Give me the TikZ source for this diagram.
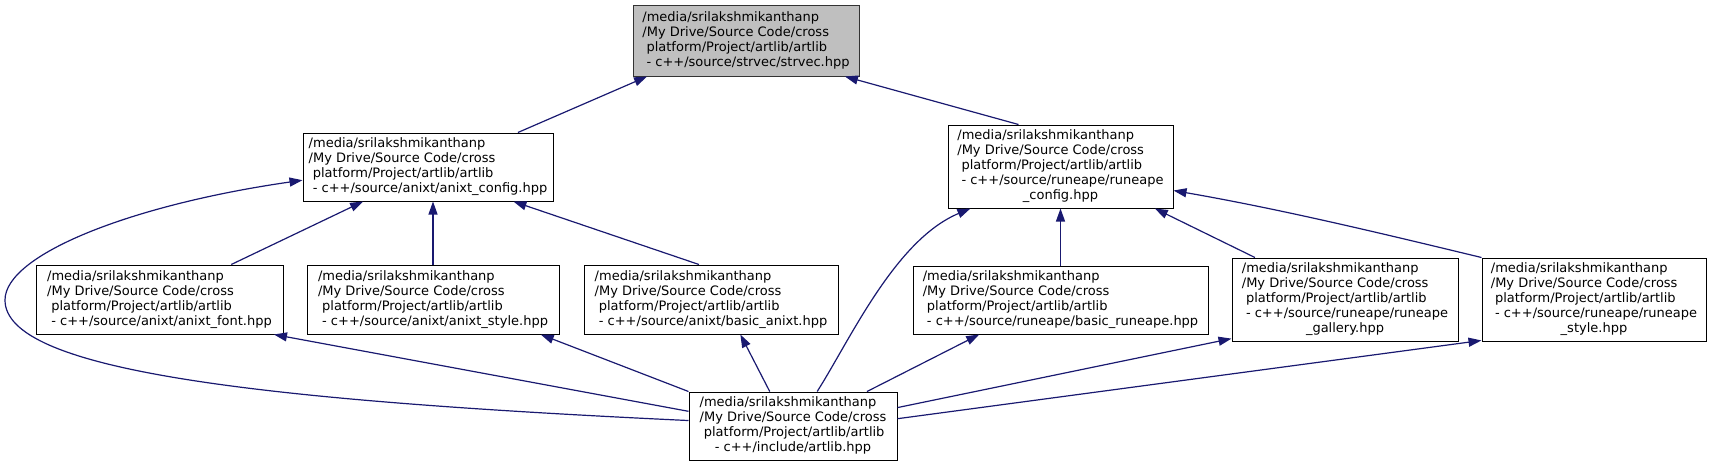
\documentclass[tikz,border=0pt]{standalone}
\usepackage{fontspec}
\setmainfont{DejaVu Sans}
\usepackage{xcolor}
\usepackage{tikz}
\usetikzlibrary{arrows.meta, calc}

\definecolor{midnight}{RGB}{25,25,112}
\newcommand{\srcpath}[1]{\begin{tabular}{@{}l@{}}/media/srilakshmikanthanp\\/My Drive/Source Code/cross\\\ platform/Project/artlib/artlib\\#1\end{tabular}}
\newcommand{\lastln}[1]{\multicolumn{1}{@{}c@{}}{#1}}

\begin{document}
\begin{tikzpicture}[
        x=1pt, y=-1pt,
        font=\fontsize{13}{15}\selectfont,
        file/.style={draw=black, fill=white, line width=1pt, inner sep=0pt, minimum height=69pt},
        root/.style={file, fill=black!25, draw=black!80},
        tall/.style={minimum height=83pt},
        dep/.style={draw=midnight, line width=1.2pt, -{Triangle[length=13pt, width=9pt]}},
    ]
    \useasboundingbox (0,0) rectangle (1713,467);
    % TOP
    \node[root, minimum width=226pt, minimum height=71pt] (strvec) at (746, 40.5) {\srcpath{\lastln{\ - c++/source/strvec/strvec.hpp}}};
    % CONFIG HEADERS
    \node[file, minimum width=250pt, minimum height=68pt] (aconfig) at (428, 167) {\srcpath{\lastln{\ - c++/source/anixt/anixt\_config.hpp}}};
    \node[file, tall, minimum width=225pt] (rconfig) at (1060.5, 166.5) {\srcpath{\ - c++/source/runeape/runeape\\\lastln{\_config.hpp}}};
    % SECOND ROW
    \node[file, minimum width=247pt] (afont) at (159.5, 299.5) {\srcpath{\lastln{\ - c++/source/anixt/anixt\_font.hpp}}};
    \node[file, minimum width=252pt] (astyle) at (433, 299.5) {\srcpath{\lastln{\ - c++/source/anixt/anixt\_style.hpp}}};
    \node[file, minimum width=254pt] (abasic) at (711, 299.5) {\srcpath{\lastln{\ - c++/source/anixt/basic\_anixt.hpp}}};
    \node[file, minimum width=295pt, minimum height=68pt] (rbasic) at (1060.5, 300) {\srcpath{\lastln{\ - c++/source/runeape/basic\_runeape.hpp}}};
    \node[file, tall, minimum width=226pt] (rgallery) at (1345, 299.5) {\srcpath{\ - c++/source/runeape/runeape\\\lastln{\_gallery.hpp}}};
    \node[file, tall, minimum width=224pt] (rstyle) at (1594, 299.5) {\srcpath{\ - c++/source/runeape/runeape\\\lastln{\_style.hpp}}};
    % BOTTOM
    \node[file, minimum width=208pt, minimum height=68pt] (artlib) at (793, 426) {\srcpath{\lastln{- c++/include/artlib.hpp}}};
    \coordinate (bend) at (5, 300);
    % EDGES
    \foreach \a/\b in {aconfig.21/strvec.-160, rconfig.135/strvec.-20, afont.26/aconfig.-152, abasic.109/aconfig.-22, rgallery.155/rconfig.-24, artlib.172/afont.-17, artlib.north west/astyle.-18, artlib.124/abasic.-50, artlib.25/rbasic.-157, artlib.10/rgallery.-161, artlib.4/rstyle.-160}
        \draw[dep] (\a) -- (\b);
    \draw[dep] (rstyle.north west) .. controls (1380, 233) and (1280, 209) .. (rconfig.-12);
    \draw[dep] (astyle.north) -- (astyle.north |- aconfig.south);
    \draw[dep] (rbasic.north) -- (rbasic.north |- rconfig.south);
    \draw[dep] (artlib.177) .. controls (250, 400) and (5, 370) .. (bend) .. controls (5, 255) and (130, 205) .. (aconfig.-174);
    \draw[dep] (artlib.55) .. controls (850, 340) and (895, 240) .. (rconfig.-155);
\end{tikzpicture}
\end{document}
